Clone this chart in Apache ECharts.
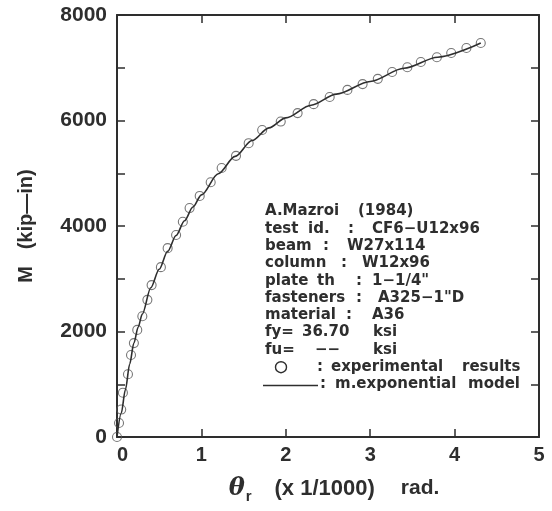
<!DOCTYPE html>
<html>
<head>
  <meta charset="UTF-8">
  <title>Moment - Rotation</title>
  <script src="https://cdn.jsdelivr.net/npm/echarts@6/dist/echarts.min.js"></script>
  <style>
    body { margin: 0; padding: 0; background: #fff; }
    #chart { width: 552px; height: 511px; }
  </style>
</head>
<body>
  <div id="chart"></div>
  <script>
    // test points (theta in 1/1000 rad, M in kip-in)
    var testTheta = [0, 0.024, 0.05, 0.07, 0.13, 0.166, 0.20, 0.24, 0.30, 0.36, 0.41, 0.52, 0.60, 0.70, 0.78, 0.86,
      0.98, 1.11, 1.24, 1.41, 1.56, 1.72, 1.94, 2.14, 2.33, 2.52, 2.73, 2.91, 3.09, 3.26, 3.44, 3.60, 3.79, 3.96, 4.14, 4.31];
    var testMoment = [0, 265, 520, 840, 1190, 1555, 1780, 2030, 2290, 2600, 2880, 3220, 3580, 3830, 4080, 4340,
      4570, 4830, 5100, 5330, 5570, 5820, 5980, 6140, 6310, 6445, 6580, 6690, 6790, 6920, 7010, 7110, 7200, 7280, 7375, 7470];

    // model curve
    var modelTheta = [0, 0.05, 0.1, 0.15, 0.2, 0.25, 0.3, 0.4, 0.5, 0.6, 0.7, 0.8, 0.9, 1.0, 1.2, 1.4, 1.6, 1.8,
      2.0, 2.3, 2.6, 3.0, 3.4, 3.8, 4.31];
    var modelMoment = [0, 450, 900, 1380, 1780, 2080, 2330, 2830, 3180, 3520, 3820, 4100, 4360, 4590, 4990, 5320, 5620, 5860,
      6050, 6290, 6500, 6740, 6990, 7200, 7470];

    var xTicks = [0, 1, 2, 3, 4, 5];
    var yTicks = [0, 2000, 4000, 6000, 8000];

    // annotation text, one list of words per row
    var infoRows = [
      ['A.Mazroi', '(1984)'],
      ['test', 'id.', ':', 'CF6\u2212U12x96'],
      ['beam', ':', 'W27x114'],
      ['column', ':', 'W12x96'],
      ['plate', 'th', ':', '1\u22121/4"'],
      ['fasteners', ':', 'A325\u22121"D'],
      ['material', ':', 'A36'],
      ['fy=', '36.70', 'ksi'],
      ['fu=', '\u2212\u2212', 'ksi'],
      [':', 'experimental', 'results'],
      [':', 'm.exponential', 'model']
    ];
    // left edge of each word in the rows above
    var infoCols = [
      [265, 358],
      [265, 308, 348, 372],
      [265, 323, 347],
      [265, 341, 362],
      [265, 317, 356, 372],
      [265, 356, 378],
      [265, 346, 372],
      [265, 302, 373],
      [265, 315, 373],
      [317, 331, 462],
      [320, 335, 468]
    ];

    var ink = '#2e2e2e';
    var chart = echarts.init(document.getElementById('chart'), null, { renderer: 'canvas' });

    var testData = testTheta.map(function (t, i) { return [t, testMoment[i]]; });
    var modelData = modelTheta.map(function (t, i) { return [t, modelMoment[i]]; });

    var tickCommon = { show: true, inside: true, length: 8, lineStyle: { color: ink, width: 1.5 } };
    var minorCommon = { show: true, splitNumber: 2, length: 8, lineStyle: { color: ink, width: 1.5 } };

    var rowTop = 211.5;
    var rowStep = 17.3;
    var infoFont = 'bold 15px "DejaVu Sans"';

    var graphics = [];
    infoRows.forEach(function (words, r) {
      words.forEach(function (w, k) {
        graphics.push({
          type: 'text', x: infoCols[r][k], y: rowTop + r * rowStep, silent: true,
          style: { text: w, fill: ink, font: infoFont, verticalAlign: 'middle', align: 'left' }
        });
      });
    });
    graphics.push({
      type: 'circle', silent: true,
      shape: { cx: 281, cy: rowTop + 9 * rowStep, r: 5.5 },
      style: { fill: '#fff', stroke: ink, lineWidth: 1.4 }
    });
    graphics.push({
      type: 'line', silent: true,
      shape: { x1: 263, y1: rowTop + 10 * rowStep + 1, x2: 318, y2: rowTop + 10 * rowStep + 1 },
      style: { stroke: ink, lineWidth: 1.6 }
    });

    chart.setOption({
      animation: false,
      backgroundColor: '#fff',
      grid: { left: 117, right: 13, top: 15, bottom: 74 },
      graphic: graphics,
      xAxis: [{
        type: 'value', position: 'bottom', min: xTicks[0], max: xTicks[xTicks.length - 1], interval: 1,
        axisLine: { show: true, onZero: false, lineStyle: { color: ink, width: 2 } },
        axisTick: tickCommon,
        splitLine: { show: false },
        axisLabel: {
          color: ink, fontFamily: 'Liberation Sans', fontWeight: 'bold', fontSize: 20, margin: 8,
          alignMinLabel: 'left'
        },
        name: '{t|\u03b8}{s|r}{n|(x 1/1000)}{m|rad.}',
        nameLocation: 'middle', nameGap: 36,
        nameTextStyle: {
          fontFamily: 'Liberation Sans', fontWeight: 'bold', fontSize: 20, color: ink,
          rich: {
            t: { fontFamily: 'DejaVu Serif', fontStyle: 'italic', fontWeight: 'bold', fontSize: 24, color: ink, padding: [0, 0, 0, 12] },
            s: { fontFamily: 'Liberation Sans', fontWeight: 'bold', fontSize: 15, color: ink, padding: [16, 0, 0, 1] },
            n: { fontFamily: 'Liberation Sans', fontWeight: 'bold', fontSize: 22, color: ink, padding: [0, 0, 0, 23] },
            m: { fontFamily: 'Liberation Sans', fontWeight: 'bold', fontSize: 21, color: ink, padding: [0, 0, 0, 26] }
          }
        }
      }, {
        type: 'value', position: 'top', min: xTicks[0], max: xTicks[xTicks.length - 1], interval: 1,
        axisLine: { show: true, onZero: false, lineStyle: { color: ink, width: 2 } },
        axisTick: tickCommon,
        axisLabel: { show: false },
        splitLine: { show: false }
      }],
      yAxis: [{
        type: 'value', position: 'left', min: yTicks[0], max: yTicks[yTicks.length - 1], interval: 2000,
        axisLine: { show: true, onZero: false, lineStyle: { color: ink, width: 2 } },
        axisTick: tickCommon,
        minorTick: minorCommon,
        splitLine: { show: false },
        axisLabel: {
          color: ink, fontFamily: 'Liberation Sans', fontWeight: 'bold', fontSize: 21, margin: 10,
          formatter: function (v) { return String(v); }
        },
        name: 'M   (kip\u2014in)',
        nameLocation: 'middle', nameGap: 81,
        nameTextStyle: { color: ink, fontFamily: 'Liberation Sans', fontWeight: 'bold', fontSize: 20 }
      }, {
        type: 'value', position: 'right', min: yTicks[0], max: yTicks[yTicks.length - 1], interval: 2000,
        axisLine: { show: true, onZero: false, lineStyle: { color: ink, width: 2 } },
        axisTick: tickCommon,
        minorTick: minorCommon,
        splitLine: { show: false },
        axisLabel: { show: false }
      }],
      series: [{
        name: 'm.exponential model', type: 'line', data: modelData,
        xAxisIndex: 0, yAxisIndex: 0,
        smooth: 0.3, smoothMonotone: 'x', showSymbol: false,
        lineStyle: { color: ink, width: 1.6 }
      }, {
        name: 'experimental results', type: 'scatter', data: testData,
        xAxisIndex: 0, yAxisIndex: 0,
        symbol: 'circle', symbolSize: 9,
        itemStyle: { color: 'rgba(255,255,255,0)', borderColor: '#555', borderWidth: 1.1 }
      }]
    });
  </script>
</body>
</html>
